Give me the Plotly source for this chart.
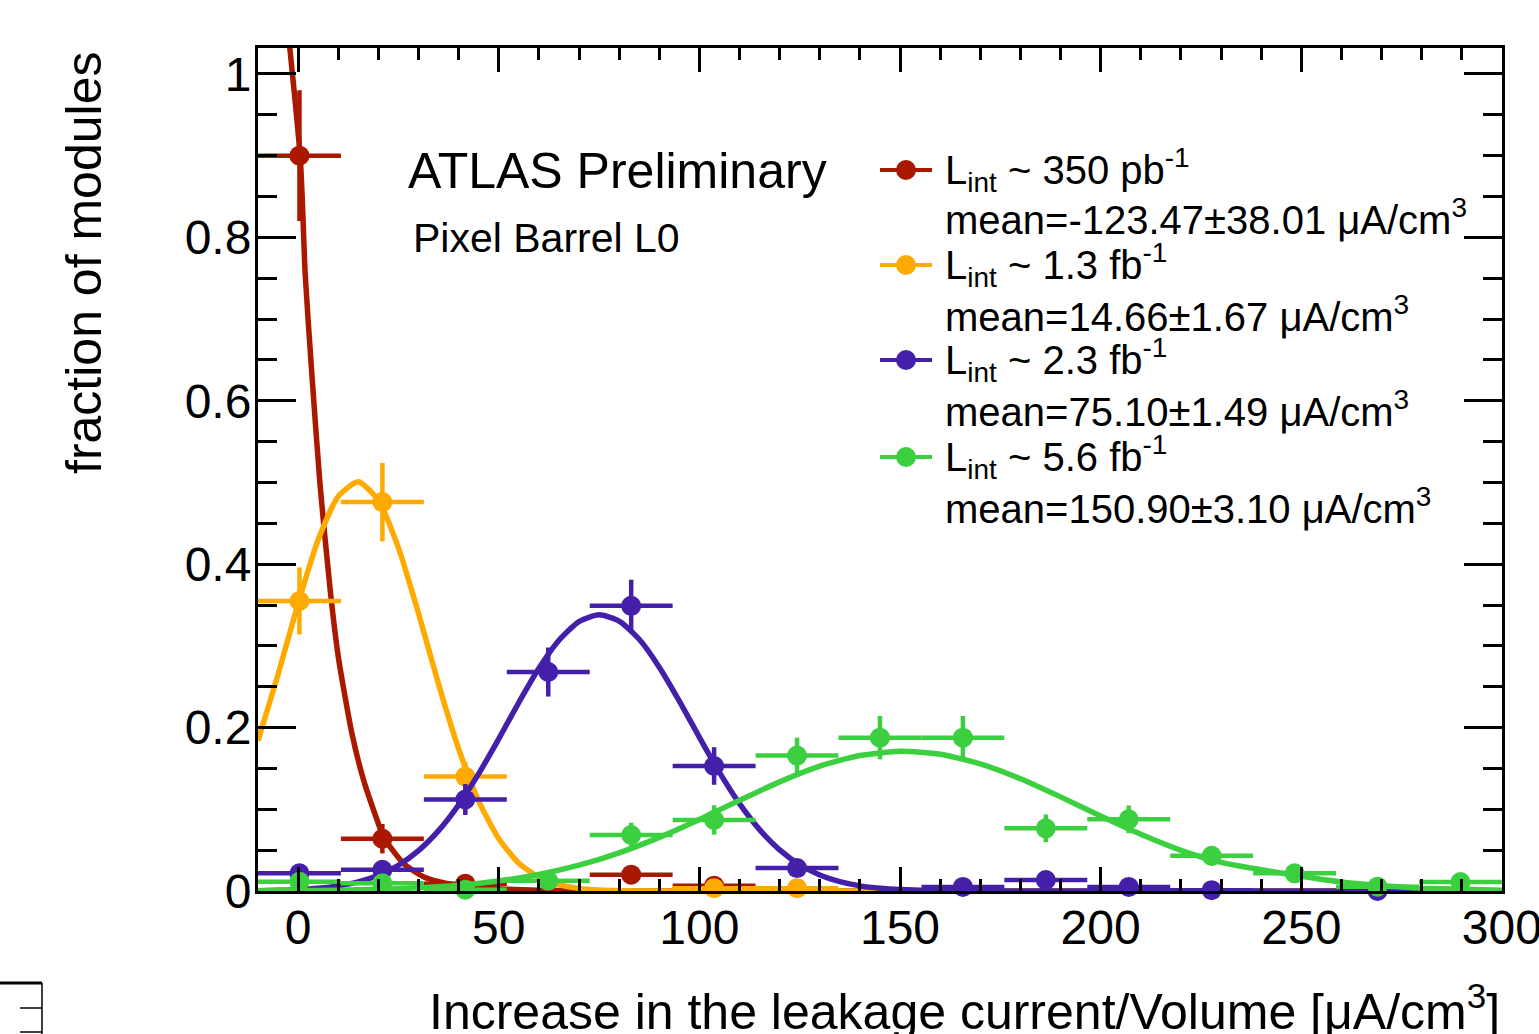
import plotly.graph_objects as go

# ---------------- data ----------------
bin_centers = [0.333, 21.0, 41.667, 62.333, 83.0, 103.667, 124.333, 145.0,
               165.667, 186.333, 207.0, 227.667, 248.333, 269.0, 289.667]
bin_half_width = 10.333

red_y = [0.900, 0.064, 0.009, None, 0.020, 0.0065, None, None, None, None, None, None, None, None, None]
red_err = [0.080, 0.018, 0.004, None, 0.006, 0.004, None, None, None, None, None, None, None, None, None]

orange_y = [0.355, 0.476, 0.140, None, None, 0.0035, 0.0035, None, None, None, None, None, None, None, None]
orange_err = [0.041, 0.048, 0.018, None, None, 0.003, 0.003, None, None, None, None, None, None, None, None]

purple_y = [0.0217, 0.026, 0.112, 0.268, 0.349, 0.153, 0.028, None, 0.005, 0.0135, 0.005, 0.001, None, 0.0, None]
purple_err = [0.008, 0.009, 0.019, 0.030, 0.032, 0.023, 0.010, None, 0.004, 0.007, 0.004, 0.003, None, 0.0, None]

green_y = [0.0114, 0.0094, 0.0015, 0.0126, 0.0685, 0.087, 0.1657, 0.1877, 0.1877, 0.0767, 0.0877, 0.043, 0.0216, 0.0053, 0.0110]
green_err = [0.006, 0.006, 0.004, 0.007, 0.015, 0.018, 0.022, 0.0265, 0.0265, 0.017, 0.017, 0.012, 0.008, 0.004, 0.006]

# fitted curves
red_fit_x = [-10, 0.5, 1.75, 3.4, 5.5, 8.0, 10.0, 13.4, 16.3, 19.6, 21.3, 26.2, 31.2, 37.0, 45.0, 60.0, 80.0, 300.0]
red_fit_y = [1.40, 0.899, 0.756, 0.634, 0.495, 0.368, 0.287, 0.193, 0.136, 0.088, 0.066, 0.034, 0.0175, 0.0094, 0.004, 0.001, 0.0, 0.0]

orange_fit_x = [-10, -5, 0, 5, 10, 15, 20, 25, 30, 35, 40, 45, 50, 55, 60, 65, 70, 75, 80, 100, 150, 200, 250, 300]
orange_fit_y = [0.184, 0.265, 0.352, 0.430, 0.483, 0.501, 0.478, 0.420, 0.340, 0.253, 0.174, 0.110, 0.064,
                0.034, 0.017, 0.0077, 0.0032, 0.0012, 0.0004, 0.0, 0.0, 0.0, 0.0, 0.0]

purple_fit_x = [-10, -5, 0, 5, 10, 15, 20, 25, 30, 35, 40, 45, 50, 55, 60, 65, 70, 75, 80, 85, 90, 95, 100,
                105, 110, 115, 120, 125, 130, 135, 140, 145, 150, 160, 180, 220, 260, 300]
purple_fit_y = [0.0004, 0.0008, 0.0016, 0.0033, 0.0062, 0.0111, 0.0192, 0.0315, 0.0494, 0.0739, 0.1055,
                0.1436, 0.1863, 0.2307, 0.2725, 0.3069, 0.3298, 0.338, 0.3304, 0.3081, 0.2740, 0.2325,
                0.1881, 0.1452, 0.1069, 0.0751, 0.0503, 0.0321, 0.0196, 0.0114, 0.0063, 0.0033, 0.0017,
                0.0004, 0.0, 0.0, 0.0, 0.0]

green_fit_x = [-10, 0, 10, 20, 30, 40, 50, 60, 70, 80, 90, 100, 110, 120, 130, 140, 150, 160, 170, 180,
               190, 200, 210, 220, 230, 240, 250, 260, 270, 280, 290, 300]
green_fit_y = [0.0002, 0.0005, 0.0010, 0.0020, 0.0039, 0.0071, 0.0123, 0.0202, 0.0316, 0.0467, 0.0656,
               0.0876, 0.1110, 0.1336, 0.1528, 0.1658, 0.1710, 0.1674, 0.1556, 0.1374, 0.1152, 0.0917,
               0.0694, 0.0498, 0.0350, 0.0260, 0.0180, 0.0110, 0.0065, 0.0035, 0.0020, 0.0010]

series_labels = ["L<sub>int</sub> ~ 350 pb<sup>-1</sup>",
                 "L<sub>int</sub> ~ 1.3 fb<sup>-1</sup>",
                 "L<sub>int</sub> ~ 2.3 fb<sup>-1</sup>",
                 "L<sub>int</sub> ~ 5.6 fb<sup>-1</sup>"]
mean_labels = ["mean=-123.47±38.01 μA/cm<sup>3</sup>",
               "mean=14.66±1.67 μA/cm<sup>3</sup>",
               "mean=75.10±1.49 μA/cm<sup>3</sup>",
               "mean=150.90±3.10 μA/cm<sup>3</sup>"]

colors = ["#aa1800", "#ffaa00", "#4420aa", "#3cd040"]

# ---------------- figure ----------------
W, H = 1539, 1034
L, R, T, B = 258, 37, 48, 143
PW, PH = W - L - R, H - T - B
FONT = "Liberation Sans, Arial, Helvetica, sans-serif"


def px_x(px):
    return (px - L) / PW


def px_y(py):
    return (H - B - py) / PH


fig = go.Figure()

series = [
    (red_y, red_err, red_fit_x, red_fit_y),
    (orange_y, orange_err, orange_fit_x, orange_fit_y),
    (purple_y, purple_err, purple_fit_x, purple_fit_y),
    (green_y, green_err, green_fit_x, green_fit_y),
]

for (vals, errs, fx, fy), col in zip(series, colors):
    xs = [c for c, v in zip(bin_centers, vals) if v is not None]
    ys = [v for v in vals if v is not None]
    es = [e for v, e in zip(vals, errs) if v is not None]
    fig.add_trace(go.Scatter(
        x=fx, y=fy, mode="lines", line=dict(color=col, width=5.5, shape="spline", smoothing=0.6),
        showlegend=False, hoverinfo="skip"))
    fig.add_trace(go.Scatter(
        x=xs, y=ys, mode="markers",
        marker=dict(color=col, size=20, line=dict(width=0)),
        error_y=dict(type="data", array=es, color=col, thickness=4.5, width=0),
        error_x=dict(type="constant", value=bin_half_width, color=col, thickness=4.5, width=0),
        cliponaxis=False, showlegend=False))

# ---------------- annotations ----------------
ann = []
ann.append(dict(text="ATLAS Preliminary", x=px_x(406), y=px_y(171), xref="paper", yref="paper",
                xanchor="left", yanchor="middle", showarrow=False,
                font=dict(family=FONT, size=50, color="black")))
ann.append(dict(text="Pixel Barrel L0", x=px_x(411), y=px_y(238), xref="paper", yref="paper",
                xanchor="left", yanchor="middle", showarrow=False,
                font=dict(family=FONT, size=41, color="black")))

legend_rows = [170, 265, 360, 457]
mean_rows = [217, 314, 409, 506]
shapes = []
for lab, mlab, ry, my, col in zip(series_labels, mean_labels, legend_rows, mean_rows, colors):
    ann.append(dict(text=lab, x=px_x(943), y=px_y(ry), xref="paper", yref="paper",
                    xanchor="left", yanchor="middle", showarrow=False,
                    font=dict(family=FONT, size=40, color="black")))
    ann.append(dict(text=mlab, x=px_x(943), y=px_y(my), xref="paper", yref="paper",
                    xanchor="left", yanchor="middle", showarrow=False,
                    font=dict(family=FONT, size=40, color="black")))
    shapes.append(dict(type="line", xref="paper", yref="paper", x0=px_x(880), x1=px_x(932),
                       y0=px_y(ry), y1=px_y(ry), line=dict(color=col, width=4)))
    shapes.append(dict(type="circle", xref="paper", yref="paper", xsizemode="pixel", ysizemode="pixel",
                       xanchor=px_x(906), yanchor=px_y(ry), x0=-10, x1=10, y0=-10, y1=10,
                       fillcolor=col, line=dict(color=col, width=0)))

# axis titles
ann.append(dict(text="Increase in the leakage current/Volume [μA/cm<sup>3</sup>]",
                x=px_x(1502), y=px_y(1008), xref="paper", yref="paper",
                xanchor="right", yanchor="middle", showarrow=False,
                font=dict(family=FONT, size=50, color="black")))
ann.append(dict(text="fraction of modules", x=px_x(84), y=px_y(50), xref="paper", yref="paper",
                xanchor="center", yanchor="top", textangle=-90, showarrow=False,
                font=dict(family=FONT, size=50, color="black")))

# bottom-left cropped frame fragment
frag = [
    (0, 983, 42, 983, 3),
    (42, 983, 42, 1040, 1.5),
    (20, 1008, 42, 1008, 1.5),
    (20, 1032, 42, 1032, 1.5),
]
for x0, y0, x1, y1, w in frag:
    shapes.append(dict(type="line", xref="paper", yref="paper", x0=px_x(x0), x1=px_x(x1),
                       y0=px_y(y0), y1=px_y(y1), line=dict(color="black", width=w)))

fig.update_layout(
    width=W, height=H,
    margin=dict(l=L, r=R, t=T, b=B, pad=0, autoexpand=False),
    paper_bgcolor="white", plot_bgcolor="white",
    font=dict(family=FONT, color="black"),
    annotations=ann, shapes=shapes, showlegend=False,
)

fig.update_xaxes(
    range=[-10, 300.02], tickmode="linear", tick0=0, dtick=50,
    ticks="inside", ticklen=24, tickwidth=2.5, tickcolor="black",
    minor=dict(ticks="inside", dtick=10, tick0=0, ticklen=12, tickwidth=2.5, tickcolor="black", showgrid=False),
    showline=True, linewidth=3, linecolor="black", mirror="allticks",
    showgrid=False, zeroline=False, ticklabeloverflow="allow", automargin=False,
    tickfont=dict(family=FONT, size=48, color="black"), ticklabelstandoff=-8,
)
fig.update_yaxes(
    range=[0, 1.0318], tickmode="linear", tick0=0, dtick=0.2,
    ticks="inside", ticklen=38, tickwidth=2.5, tickcolor="black",
    minor=dict(ticks="inside", dtick=0.05, tick0=0, ticklen=19, tickwidth=2.5, tickcolor="black", showgrid=False),
    showline=True, linewidth=3, linecolor="black", mirror="allticks",
    showgrid=False, zeroline=False, ticklabeloverflow="allow", automargin=False,
    tickfont=dict(family=FONT, size=48, color="black"), ticklabelstandoff=-6,
)

fig.write_html("out.html", config={"displayModeBar": False},
               post_script="document.body.style.margin='0';document.body.style.overflow='hidden';")
